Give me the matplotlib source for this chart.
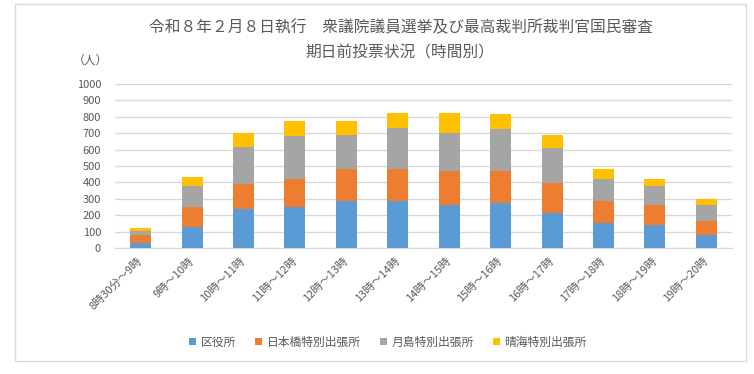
import numpy as np
import matplotlib
matplotlib.use("Agg")
import matplotlib.pyplot as plt
from matplotlib.patches import Rectangle

plt.rcParams["font.family"] = ["Noto Sans CJK JP", "DejaVu Sans"]

# データ
time_labels = [
    "8時30分～9時", "9時～10時", "10時～11時", "11時～12時",
    "12時～13時", "13時～14時", "14時～15時", "15時～16時",
    "16時～17時", "17時～18時", "18時～19時", "19時～20時",
]
kuyakusho = [33, 126, 240, 252, 285, 289, 260, 276, 215, 150, 138, 77]
nihonbashi = [44, 126, 152, 167, 195, 191, 207, 191, 183, 135, 126, 90]
tsukishima = [27, 128, 226, 266, 211, 254, 236, 257, 210, 134, 112, 93]
harumi = [16, 51, 85, 91, 85, 87, 118, 91, 79, 61, 43, 37]

series_names = ["区役所", "日本橋特別出張所", "月島特別出張所", "晴海特別出張所"]
colors = ["#5B9BD5", "#ED7D31", "#A5A5A5", "#FFC000"]
text_color = "#595959"

W, H = 754, 374
fig = plt.figure(figsize=(W / 100, H / 100), dpi=100)
ax = fig.add_axes([115 / W, 1 - 248 / H, (732 - 115) / W, (248 - 84) / H])

x = np.arange(len(time_labels))
bottom = np.zeros(len(time_labels))
for name, vals, c in zip(series_names, [kuyakusho, nihonbashi, tsukishima, harumi], colors):
    ax.bar(x, vals, width=0.41, bottom=bottom, color=c, label=name, zorder=3)
    bottom += np.array(vals)

ax.set_xlim(-0.5, len(time_labels) - 0.5)
ax.set_ylim(0, 1000)
ax.set_yticks(range(0, 1001, 100))
ax.grid(axis="y", color="#D9D9D9", linewidth=1, zorder=0)
for s in ["top", "right", "left"]:
    ax.spines[s].set_visible(False)
ax.spines["bottom"].set_color("#D9D9D9")
ax.tick_params(axis="both", length=0, colors=text_color, labelsize=8)
ax.tick_params(axis="y", pad=10)
ax.tick_params(axis="x", pad=8)
ax.set_xticks(x)
ax.set_xticklabels(time_labels, rotation=45, ha="right", va="center",
                   rotation_mode="anchor", fontsize=8)

fig.text(401 / W, 1 - 28 / H,
         "令和８年２月８日執行　衆議院議員選挙及び最高裁判所裁判官国民審査",
         ha="center", va="center", fontsize=11.3, color=text_color)
fig.text(400 / W, 1 - 53 / H, "期日前投票状況（時間別）",
         ha="center", va="center", fontsize=11.3, color=text_color)
fig.text(90 / W, 1 - 60 / H, "（人）", ha="center", va="center",
         fontsize=8.5, color=text_color)

fig.legend(loc="center", bbox_to_anchor=(388 / W, 1 - 342 / H), ncol=4,
           frameon=False, fontsize=8.5, handlelength=0.6, handleheight=0.6,
           columnspacing=1.6, handletextpad=0.4, labelcolor=text_color)

# グラフ枠
fig.patches.append(Rectangle((15 / W, 13 / H), 731 / W, 357 / H,
                             transform=fig.transFigure, fill=False,
                             edgecolor="#D9D9D9", linewidth=1))

fig.savefig("out.png", dpi=100)
